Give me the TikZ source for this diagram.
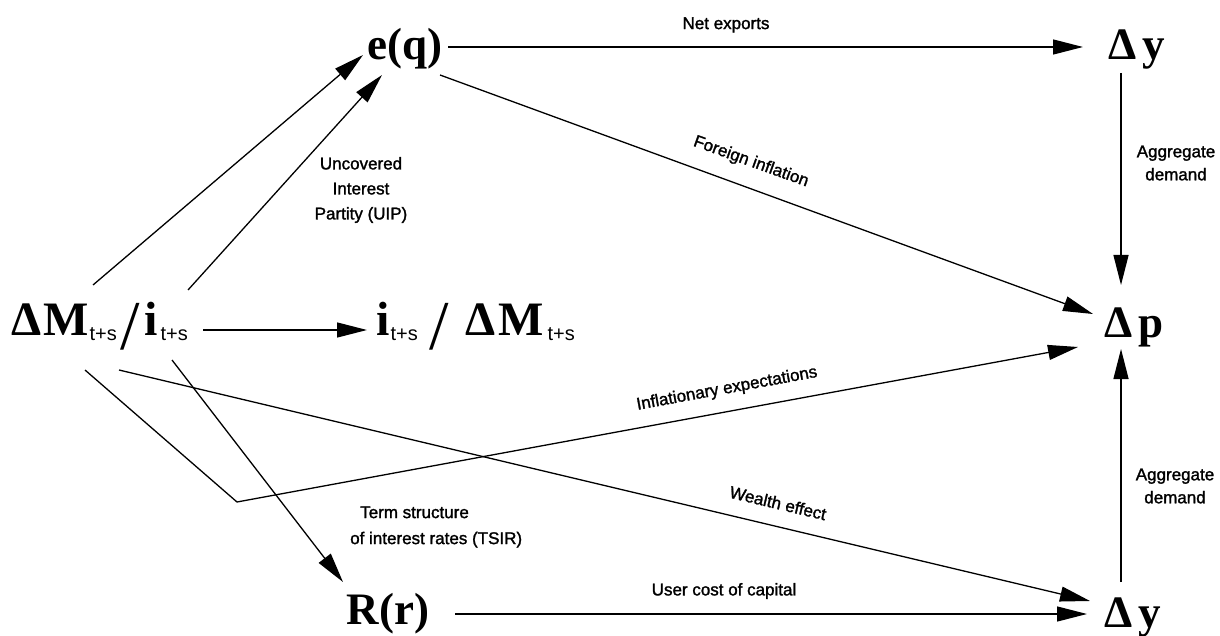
\documentclass[tikz,border=0pt]{standalone}
\usepackage{fontspec}
\setmainfont{Liberation Serif}
\setsansfont{Liberation Sans}
\newfontfamily\labfont{Liberation Sans}[FakeBold=1.5]
\usetikzlibrary{arrows.meta}
\newcommand\tsub{\raisebox{-5pt}{\fontsize{20}{20}\selectfont\sffamily\mdseries t+s}}
\newcommand\bigslash{\raisebox{-14pt}{\fontsize{70}{70}\selectfont\rmfamily\mdseries /}}
\begin{document}
\begin{tikzpicture}[x=1pt,y=-1pt,
  big/.style={font=\fontsize{45}{50}\selectfont\bfseries, inner sep=0pt},
  mid/.style={font=\fontsize{48}{50}\selectfont\bfseries, inner sep=0pt},
  lab/.style={font=\fontsize{17}{24}\selectfont\labfont, inner sep=0pt, align=center},
  arr/.style={-{Triangle[length=30pt,width=15pt]}, line width=1.3pt}]
\fill[white] (0,0) rectangle (1220,636);
\useasboundingbox (0,0) rectangle (1220,636);

% main nodes
\node[big, anchor=base] (eq) at (405,60) {e(q)};
\node[big, anchor=base] (dyt) at (1137,60) {Δ\kern6pt y};
\node[big, anchor=base] (dp) at (1134,337) {Δ\kern6pt p};
\node[big, anchor=base] (dyb) at (1133,627) {Δ\kern6pt y};
\node[big, anchor=base] (rr) at (388,624) {R(r)};
\node[mid, anchor=base west] (src) at (11,335)
  {Δ\kern2pt M\kern1pt\tsub\kern4pt\bigslash\kern4pt i\kern3pt\tsub};
\node[mid, anchor=base west] (dst) at (376,335)
  {i\kern1pt\tsub\kern12pt\bigslash\kern16pt Δ\kern3pt M\kern4pt\tsub};

% connector ends
\coordinate (a1s) at (93,285);  \coordinate (a1e) at (363,55);
\coordinate (a2s) at (188,290); \coordinate (a2e) at (382,75);
\coordinate (m1) at (203,330);  \coordinate (m2) at (367,330);
\coordinate (n1) at (448,47);   \coordinate (n2) at (1083,47);
\coordinate (f1) at (440,75);   \coordinate (f2) at (1093,314);
\coordinate (v1) at (1121,73);  \coordinate (v2) at (1121,285);
\coordinate (w1) at (1121,582); \coordinate (w2) at (1121,349);
\coordinate (ie1) at (85,370);  \coordinate (iec) at (237,502); \coordinate (ie2) at (1078,347);
\coordinate (we1) at (119,370); \coordinate (we2) at (1090,601);
\coordinate (t1) at (172,360);  \coordinate (t2) at (343,582);
\coordinate (u1) at (455,614);  \coordinate (u2) at (1087,614);

% connectors
\draw[arr] (a1s) -- (a1e);
\draw[arr] (a2s) -- (a2e);
\draw[arr] (m1) -- (m2);
\draw[arr] (n1) -- (n2);
\draw[arr] (f1) -- (f2);
\draw[arr] (v1) -- (v2);
\draw[arr] (w1) -- (w2);
\draw[arr] (ie1) -- (iec) -- (ie2);
\draw[arr] (we1) -- (we2);
\draw[arr] (t1) -- (t2);
\draw[arr] (u1) -- (u2);

% labels
\node[lab] (lnet) at (726,25) {Net exports};
\node[lab, rotate=-19.8] (lfor) at (751,162) {Foreign inflation};
\node[lab, font=\fontsize{17}{23}\selectfont\labfont] (lagg1) at (1176,163) {Aggregate\\demand};
\node[lab, font=\fontsize{17}{23}\selectfont\labfont] (lagg2) at (1175,486) {Aggregate\\demand};
\node[lab, font=\fontsize{17}{25}\selectfont\labfont] (luip) at (361,190) {Uncovered\\Interest\\Partity (UIP)};
\node[lab, align=left, anchor=west, font=\fontsize{17}{26}\selectfont\labfont] (ltsir) at (350,527) {\hspace*{10pt}Term structure\\of interest rates (TSIR)};
\node[lab, rotate=10.4] (linf) at (727,389) {Inflationary expectations};
\node[lab, rotate=-13.4] (lwe) at (778,503) {Wealth effect};
\node[lab] (luc) at (724,591) {User cost of capital};
\end{tikzpicture}
\end{document}
